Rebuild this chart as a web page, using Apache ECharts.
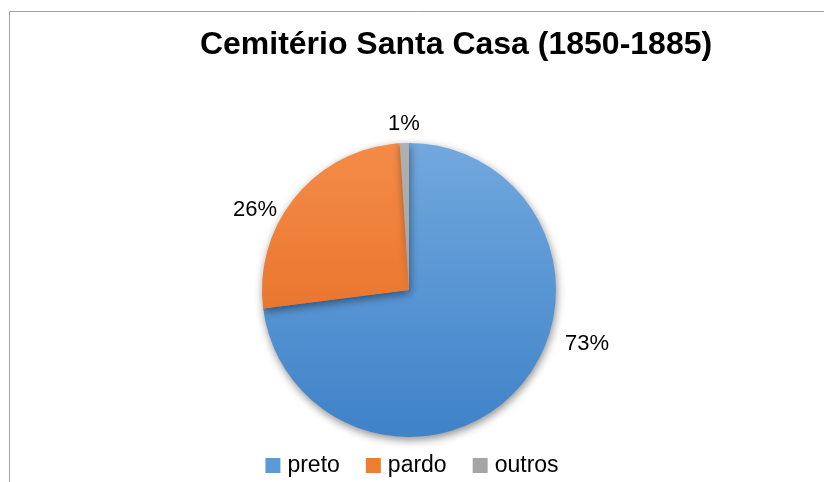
<!DOCTYPE html>
<html>
<head>
<meta charset="utf-8">
<script src="https://cdn.jsdelivr.net/npm/echarts@6/dist/echarts.min.js"></script>
<style>
  html, body { margin: 0; padding: 0; background: #fff; }
  #chart { width: 824px; height: 482px; }
</style>
</head>
<body>
<div id="chart"></div>
<script>
const categories = ['preto', 'pardo', 'outros'];
const values = [73, 26, 1];
// where the percent labels sit (Excel "best fit" style)
const labelPos = [[587, 344], [255, 210], [404, 124]];

const gradients = [['#71A8DE', '#3F82C8'], ['#F38C48', '#E3661B'], ['#B0B0B0', '#999999']];
const legendColors = ['#5B9BD5', '#ED7D31', '#A5A5A5'];

const chart = echarts.init(document.getElementById('chart'));

const cx = 409, cy = 290, r = 147;

const data = categories.map((name, i) => ({
    name: name,
    value: values[i],
    itemStyle: {
        color: {
            type: 'linear', x: 0, y: cy - r, x2: 0, y2: cy + r, global: true,
            colorStops: [{ offset: 0, color: gradients[i][0] }, { offset: 1, color: gradients[i][1] }]
        }
    }
}));

chart.setOption({
    animation: false,
    title: {
        text: 'Cemitério Santa Casa (1850-1885)',
        left: 451,
        top: 24,
        textAlign: 'center',
        textStyle: { fontFamily: 'Liberation Sans', fontWeight: 'bold', fontSize: 32, color: '#000' }
    },
    legend: {
        top: 449,
        left: 'center',
        itemWidth: 15,
        itemHeight: 15,
        itemGap: 26,
        icon: 'rect',
        data: categories.map((name, i) => ({ name: name, itemStyle: { color: legendColors[i] } })),
        textStyle: { fontFamily: 'Liberation Sans', fontSize: 23, color: '#000', padding: [0, 0, 0, 2] }
    },
    graphic: [
        { type: 'line', shape: { x1: 9.5, y1: 11.5, x2: 824, y2: 11.5 }, style: { stroke: '#A0A0A0', lineWidth: 1 } },
        { type: 'line', shape: { x1: 9.5, y1: 11.5, x2: 9.5, y2: 482 }, style: { stroke: '#A0A0A0', lineWidth: 1 } }
    ],
    series: [{
        type: 'pie',
        center: [cx, cy],
        radius: r,
        startAngle: 90,
        clockwise: true,
        silent: true,
        itemStyle: {
            shadowBlur: 8,
            shadowOffsetY: 3,
            shadowOffsetX: 1,
            shadowColor: 'rgba(0,0,0,0.45)'
        },
        label: {
            show: true,
            position: 'outside',
            formatter: p => p.value + '%',
            fontFamily: 'Liberation Sans',
            fontSize: 22,
            color: '#000'
        },
        labelLine: { show: false },
        labelLayout: p => ({ x: labelPos[p.dataIndex][0], y: labelPos[p.dataIndex][1], align: 'center', verticalAlign: 'middle' }),
        data: data
    }]
});
</script>
</body>
</html>
